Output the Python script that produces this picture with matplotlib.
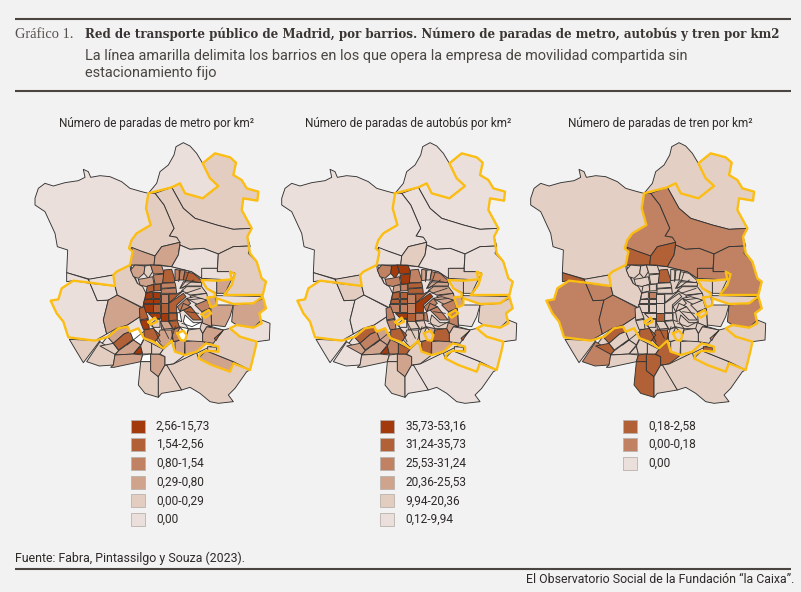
import matplotlib
matplotlib.use("Agg")
import matplotlib.pyplot as plt
from matplotlib.collections import PolyCollection
from matplotlib.patches import Rectangle

# barrio outlines, shared by the three maps
BARRIOS = [
    # 0 urban base under the small cells
    [(332,405),(402,405),(455,410),(515,425),(545,445),(590,495),(590,530),(575,590),(610,600),(590,640),(530,670),(460,705),(395,672),(362,695),(340,672),(285,675),(240,648),(262,620),(290,597),(322,585),(360,560),(368,533),(378,490),(352,460)],
    # 1 el pardo
    [(45,205),(55,175),(75,160),(100,168),(135,158),(175,152),(195,142),(190,118),(205,125),(212,142),(240,137),(270,140),(305,155),(330,175),(365,185),(385,190),(378,235),(392,285),(350,310),(335,330),(327,355),(338,365),(330,405),(290,425),(280,435),(210,448),(140,428),(143,360),(112,350),(105,310),(75,245),(45,225)],
    # 2 north
    [(385,190),(410,160),(420,125),(445,105),(462,75),(468,50),(490,38),(510,48),(530,70),(548,100),(570,145),(595,168),(548,205),(495,190),(480,160),(455,172)],
    # 3 north east
    [(548,100),(585,70),(630,82),(648,98),(640,135),(665,150),(680,175),(715,185),(712,212),(670,205),(665,240),(695,295),(640,298),(590,285),(525,265),(490,235),(455,172),(480,160),(495,190),(548,205),(595,168),(570,145)],
    # 4
    [(405,190),(455,172),(490,235),(525,265),(590,285),(640,298),(695,295),(682,320),(690,348),(640,350),(595,372),(550,355),(510,358),(480,345),(470,322),(448,318),(462,295),(432,225)],
    # 5
    [(385,190),(405,190),(432,225),(462,295),(448,318),(470,322),(480,337),(425,350),(405,378),(368,365),(327,355),(335,330),(350,310),(392,285),(378,235)],
    # 6
    [(335,352),(368,365),(405,378),(402,405),(375,405),(345,405),(330,405),(338,370)],
    # 7
    [(405,378),(425,350),(480,337),(475,375),(455,410),(420,405),(402,405)],
    # 8
    [(480,345),(510,358),(550,355),(595,372),(592,415),(550,415),(545,445),(515,425),(455,410),(475,375)],
    # 9
    [(595,372),(640,350),(690,348),(685,370),(710,395),(725,445),(738,455),(728,495),(615,495),(635,465),(645,430),(630,425),(592,425)],
    # 10
    [(545,415),(592,415),(592,425),(630,425),(645,430),(635,450),(545,445)],
    # 11, 12 western strip
    [(140,428),(205,448),(210,458),(160,452),(140,455)],
    [(205,448),(280,435),(285,468),(210,458)],
    # 13 casa de campo
    [(160,452),(210,460),(232,512),(265,510),(250,570),(260,612),(225,632),(145,622),(130,575),(110,550),(92,512),(115,508),(125,475)],
    # 14, 15, 16
    [(210,460),(285,468),(292,495),(268,510),(232,512)],
    [(265,510),(292,495),(368,535),(360,560),(322,585),(290,595),(260,612),(250,570)],
    [(290,425),(330,405),(332,420),(352,460),(368,470),(378,490),(368,533),(292,495),(285,468),(280,435)],
    # 17, 18 south west
    [(148,628),(240,632),(190,698),(170,665)],
    [(240,635),(285,665),(285,675),(280,705),(238,708),(200,695)],
    # 19 - 25 south west cells
    [(262,620),(290,597),(322,588),(330,605),(312,612),(280,640)],
    [(240,648),(280,640),(296,662),(285,673)],
    [(296,660),(280,640),(312,612),(330,605),(340,628)],
    [(340,630),(330,605),(355,595),(372,625),(362,645)],
    [(296,662),(340,630),(362,645),(340,672),(285,675)],
    [(340,672),(362,648),(368,672)],
    [(285,675),(340,672),(368,675),(362,695),(282,712),(272,712),(280,705)],
    # 26 - 33 south
    [(372,628),(395,640),(395,672),(368,672),(362,648)],
    [(362,695),(368,675),(392,672),(392,695)],
    [(362,695),(392,695),(392,720),(415,740),(415,802),(375,790),(355,765)],
    [(392,672),(415,672),(435,680),(435,705),(415,740),(392,722)],
    [(415,740),(435,705),(445,708),(485,780),(425,790),(415,802)],
    [(395,640),(430,658),(420,672),(395,672)],
    [(430,658),(455,635),(465,665),(495,675),(460,702),(435,705),(435,680),(420,672)],
    [(440,705),(460,702),(530,668),(535,685),(575,705),(630,725),(640,700),(690,720),(680,725),(645,775),(625,795),(640,815),(595,820),(570,815),(540,790),(510,772),(485,780)],
    # 34 - 38 south east
    [(535,685),(558,662),(640,695),(630,725),(575,705)],
    [(630,595),(660,620),(710,635),(705,660),(690,720),(640,695),(558,662),(595,665),(595,650),(558,640),(590,625),(610,600)],
    [(465,635),(480,630),(495,632),(493,675),(465,665)],
    [(495,635),(545,628),(558,640),(530,665),(495,675)],
    [(505,600),(540,595),(548,610),(548,635),(495,632)],
    # 39 - 43 east
    [(560,590),(610,600),(590,625),(580,640),(548,635),(548,610)],
    [(572,530),(590,525),(640,525),(630,560),(615,590),(575,585)],
    [(640,525),(700,520),(728,505),(738,535),(718,550),(725,580),(700,593),(650,585),(635,575)],
    [(630,595),(650,585),(700,593),(725,570),(750,580),(748,630),(710,635),(660,620)],
    [(590,505),(640,522),(700,520),(728,500),(615,497),(585,497)],
    # 44 - 55 north arc
    [(332,420),(345,405),(375,408),(372,430),(355,445),(340,440)],
    [(375,408),(392,405),(398,425),(385,445),(372,430)],
    [(392,405),(425,407),(432,430),(400,432)],
    [(400,435),(432,432),(428,462),(405,462)],
    [(375,445),(398,440),(402,462),(380,470),(360,465),(355,448)],
    [(432,420),(455,418),(465,450),(462,458),(428,458)],
    [(465,418),(478,420),(478,450),(465,452)],
    [(478,420),(495,420),(490,450),(478,450)],
    [(495,425),(520,430),(545,452),(540,458),(490,450)],
    [(545,458),(490,455),(480,475),(500,468),(545,468)],
    [(485,482),(500,470),(545,470),(560,490),(510,495)],
    [(560,490),(510,498),(530,520),(565,510)],
    # 56 - 73 centre grid
    [(382,468),(400,464),(402,483),(378,488)],
    [(402,464),(422,462),(422,482),(402,483)],
    [(424,460),(465,458),(468,472),(424,475)],
    [(424,477),(468,474),(470,490),(424,490)],
    [(378,490),(398,485),(398,505),(375,508)],
    [(400,485),(420,485),(420,505),(400,505)],
    [(422,492),(445,492),(445,518),(422,518)],
    [(447,492),(470,492),(490,482),(448,518)],
    [(372,508),(398,508),(398,520),(370,520)],
    [(400,507),(420,507),(420,520),(400,520)],
    [(368,522),(398,522),(398,545),(375,545)],
    [(400,522),(420,522),(420,545),(400,545)],
    [(422,520),(445,520),(445,548),(422,548)],
    [(447,520),(490,490),(498,500),(470,525),(470,548),(447,548)],
    [(358,535),(372,530),(385,565),(360,570)],
    [(385,548),(420,548),(420,565),(400,565)],
    [(422,550),(445,550),(445,572),(422,572)],
    [(447,550),(470,550),(472,570),(447,572)],
    # 74 - 85 lower centre and east of centre
    [(360,572),(385,568),(388,598),(370,598)],
    [(410,568),(420,568),(420,592),(400,592),(390,584)],
    [(422,574),(445,574),(458,595),(425,598)],
    [(447,574),(472,572),(478,590),(460,598)],
    [(472,530),(500,505),(512,520),(480,545)],
    [(472,548),(480,548),(485,575),(472,570)],
    [(512,530),(540,565),(545,570),(520,570),(490,540)],
    [(500,505),(525,500),(560,510),(535,525)],
    [(525,525),(562,510),(570,535),(545,545)],
    [(545,548),(572,535),(575,590),(548,580)],
    [(490,575),(495,555),(520,578),(545,578),(545,596),(505,596)],
    [(455,600),(480,592),(472,610),(482,630),(460,635)],
    # 86, 87, 88
    [(420,600),(455,600),(458,630),(430,652),(410,630)],
    [(372,600),(400,595),(420,615),(405,635),(372,625)],
    [(583,625),(608,603),(596,618),(588,632)],
    # 89 loop at the retiro side
    [(472,610),(490,602),(500,615),(495,632),(482,630)],
    # 90 small block on the south east yellow notch
    [(563,650),(590,652),(590,663),(563,662)],
    # 91 - 96 blocks inside the east yellow notches and round the centre
    [(590,452),(635,448),(615,490),(590,490)],
    [(545,450),(590,452),(590,490),(560,475)],
    [(562,502),(585,500),(590,525),(572,532)],
    [(478,590),(505,596),(495,632),(500,615),(490,602)],
    [(545,578),(575,590),(560,590),(548,610),(540,595)],
    [(490,520),(512,530),(490,540),(480,545)],
]

# extra borders between the small central barrios
STREETS = [
    [(481,420),(476,455)],
    [(506,425),(496,455),(480,475)],
    [(521,450),(486,475)],
    [(541,475),(496,490)],
    [(546,505),(505,510)],
    [(536,550),(501,545)],
    [(546,575),(516,590),(486,580)],
    [(466,590),(451,635)],
    [(421,575),(446,625)],
    [(396,585),(421,635)],
    [(371,605),(321,645)],
]

# class of each barrio, same order as BARRIOS, -1 is no data (drawn white)
METRO_CLASS = [
    0, 0, 0, 1, 1, 1, 2, 2, 0, 1, 0,
    0, 0, 0, 0, 2, 1, 1, 1,
    2, 1, 4, -1, 2, 5, 2,
    1, -1, 1, 2, 1, 1, 0, 1,
    2, 1, 2, 2, 1,
    2, 2, 2, 0, 0,
    2, 1, 3, 3, 2, 4, 3, 3, 4, 1, 1, 1,
    4, 4, 3, 3, 5, 5, 3, 4, 5, 5, 5, 4, 4, 4, 4, 5, 5, 4,
    5, 1, 2, 4, 3, -1, 4, 1, 3, 2, -1, 3,
    2, 4, 4, -1, 1,
    2, 0, 2, -1, 1, 3,
]
BUS_CLASS = [
    0, 0, 0, 0, 0, 0, 0, 1, 0, 0, 1,
    0, 1, 0, 1, 0, 0, 0, 0,
    4, 2, 3, 2, 2, 5, 1,
    3, 1, 1, 2, 0, 4, 1, 0,
    0, 0, 4, 2, 4,
    1, 0, 1, 0, 1,
    3, 5, 5, 5, 3, 3, 2, 1, 3, 2, 2, 2,
    2, 3, 4, 4, 4, 4, 3, 4, 4, 4, 3, 3, 3, 5, 3, 5, 4, 3,
    3, 0, 1, 1, 3, 3, 3, 2, 3, 3, 1, 1,
    1, 4, 4, 1, 0,
    1, 1, 2, 2, 2, 3,
]
TREN_CLASS = [
    0, 0, 0, 0, 1, 1, 2, 2, 1, 1, 1,
    2, 0, 1, 1, 1, 0, 0, 1,
    2, 2, 0, 0, 0, 0, 0,
    0, 2, 2, 2, 0, 0, 2, 0,
    0, 0, 0, 0, 0,
    0, 0, 1, 0, 0,
    0, 0, 0, 0, 0, 2, 0, 0, 0, 0, 0, 0,
    0, 0, 0, 0, 0, 1, 0, 0, 0, 0, 0, 0, 0, 0, 0, 0, 2, 0,
    0, 0, 0, 0, 0, 0, 0, 0, 0, 0, 0, 0,
    2, 2, 1, 0, 2,
    0, 0, 0, 0, 0, 0,
]

YELLOW_LINE = [(385,190),(455,172),(480,160),(495,190),(548,205),(595,168),(570,145),(548,100),(585,70),(630,82),(648,98),(640,135),(665,150),(680,175),(715,185),(712,212),(670,205),(665,240),(695,295),(682,320),(690,370),(710,395),(725,445),(738,455),(728,495),(612,495),(635,465),(645,432),(630,425),(635,448),(590,452),(545,450),(560,475),(585,490),(585,500),(562,502),(572,532),(590,525),(590,505),(640,522),(700,520),(728,500),(738,535),(718,550),(725,580),(700,593),(650,585),(630,595),(660,620),(710,635),(705,660),(690,720),(640,700),(630,725),(575,705),(535,685),(540,672),(558,662),(595,665),(595,650),(558,640),(530,665),(495,675),(465,665),(455,632),(430,655),(400,635),(372,625),(355,595),(330,605),(322,590),(295,595),(265,620),(225,632),(145,622),(130,575),(110,550),(92,512),(115,508),(125,475),(160,452),(210,458),(285,468),(280,435),(290,425),(330,405),(338,365),(327,355),(335,330),(350,310),(392,285),(378,235),(385,190)]
YELLOW_LOOPS = [
    [(545,553),(566,540),(574,550),(555,563),(545,553)],
    [(386,576),(405,563),(412,575),(392,584),(386,576)],
    [(472,610),(490,602),(500,615),(495,632),(482,630),(472,610)],
]

PANEL_TITLES = ["Número de paradas de metro por km²", "Número de paradas de autobús por km²", "Número de paradas de tren por km²"]
METRO_LABELS = ["2,56-15,73", "1,54-2,56", "0,80-1,54", "0,29-0,80", "0,00-0,29", "0,00"]
BUS_LABELS = ["35,73-53,16", "31,24-35,73", "25,53-31,24", "20,36-25,53", "9,94-20,36", "0,12-9,94"]
TREN_LABELS = ["0,18-2,58", "0,00-0,18", "0,00"]

COLORS = ["#EBDFDB", "#E3CDC0", "#D0A48C", "#C08263", "#B26036", "#A33A0C"]
TREN_COLORS = ["#E3CFC3", "#C08263", "#B26036"]
LEGEND_TREN = ["#B26036", "#C08263", "#EBDFDB"]
BG = "#F2F2F2"
INK = "#2E2A28"
RULE = "#4A4541"
SANS = "Roboto"

fig = plt.figure(figsize=(8.01, 5.92), dpi=100, facecolor=BG)
ax = fig.add_axes([0, 0, 1, 1])
ax.set_xlim(0, 801)
ax.set_ylim(592, 0)
ax.axis("off")


def draw_map(x0, classes, colors):
    # shapes are in zoom units (3 per pixel)
    polys = [[(x0 + x / 3, 130 + y / 3) for x, y in b] for b in BARRIOS]
    faces = ["white" if c < 0 else colors[c] for c in classes]
    ax.add_collection(PolyCollection(polys, facecolors=faces, edgecolors="#333333", linewidths=0.65, zorder=2))
    for line in STREETS:
        ax.plot([x0 + x / 3 for x, y in line], [130 + y / 3 for x, y in line], color="#333333", lw=0.6, zorder=2.5)
    for line in [YELLOW_LINE] + YELLOW_LOOPS:
        ax.plot([x0 + x / 3 for x, y in line], [130 + y / 3 for x, y in line], color="#FDBE14", lw=1.7, zorder=3, solid_joinstyle="round")


def draw_legend(x, labels, colors):
    for i, (lab, col) in enumerate(zip(labels, colors)):
        y = 426 + i * 18.7
        ax.add_patch(Rectangle((x, y - 6.5), 13.5, 13, facecolor=col, edgecolor="#B9B2AD", lw=0.6))
        ax.text(x + 25, y, lab, family=SANS, fontsize=8.6, color=INK, va="center", ha="left")


draw_map(20, METRO_CLASS, COLORS)
draw_map(266.7, BUS_CLASS, COLORS)
draw_map(515.7, TREN_CLASS, TREN_COLORS)

draw_legend(131, METRO_LABELS, COLORS[::-1])
draw_legend(380, BUS_LABELS, COLORS[::-1])
draw_legend(623, TREN_LABELS, LEGEND_TREN)

for cx, title in zip([157, 408, 660], PANEL_TITLES):
    ax.text(cx, 123, title, family=SANS, fontsize=8.5, color=INK, ha="center", va="center")

for y, x1 in [(18.5, 791), (91, 791), (568.5, 791)]:
    ax.plot([15, x1], [y, y], color=RULE, lw=1.5, solid_capstyle="butt")

ax.text(15, 34, "Gráfico 1.", family="Liberation Serif", fontsize=10.4, color="#55504C", va="center")
ax.text(85, 34, "Red de transporte público de Madrid, por barrios. Número de paradas de metro, autobús y tren por km2",
        family="DejaVu Serif", weight="bold", fontsize=8.6, color="#3A3532", va="center")
ax.text(85, 56, "La línea amarilla delimita los barrios en los que opera la empresa de movilidad compartida sin",
        family=SANS, fontsize=10.45, color="#4A4541", va="center")
ax.text(85, 72.5, "estacionamiento fijo", family=SANS, fontsize=10.45, color="#4A4541", va="center")

ax.text(15, 558.5, "Fuente: Fabra, Pintassilgo y Souza (2023).", family=SANS, fontsize=8.9, color=INK, va="center")
ax.text(794, 579.5, "El Observatorio Social de la Fundación “la Caixa”.", family=SANS, fontsize=8.9, color=INK, va="center", ha="right")

fig.savefig("out.png", dpi=100, facecolor=BG)
